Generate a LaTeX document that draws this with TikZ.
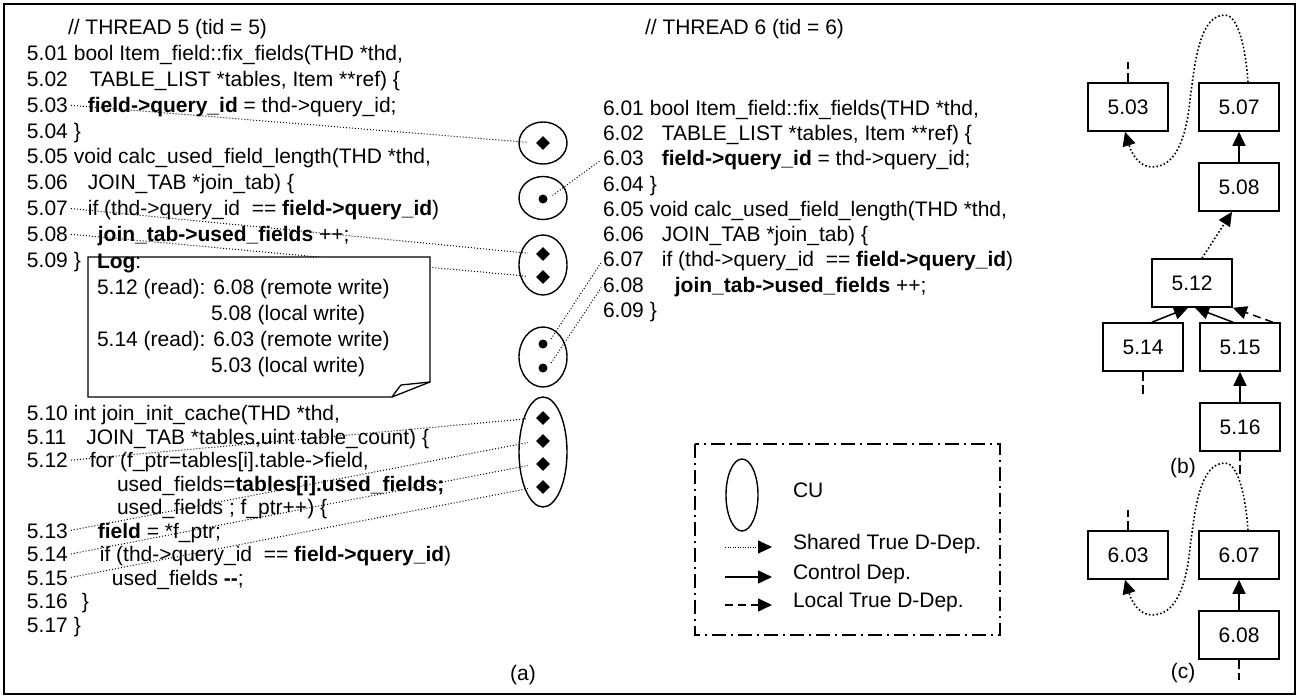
\documentclass[tikz,border=0pt]{standalone}
\usepackage{fontspec}
\setmainfont{Liberation Sans}
\usetikzlibrary{arrows.meta,calc,shapes.geometric}
\newcommand\cdfont{\fontsize{21}{25}\selectfont}
\begin{document}
\begin{tikzpicture}[x=1pt,y=-1pt,
  txt/.style={anchor=mid west,inner sep=0pt,outer sep=0pt,font=\cdfont},
  lbl/.style={inner sep=0pt,font=\cdfont},
  cuell/.style={draw,ellipse,line width=1.4pt,inner sep=0pt},
  bdia/.style={diamond,fill,inner sep=0pt,minimum size=14pt},
  bdot/.style={circle,fill,inner sep=0pt,minimum size=9pt},
  lnk/.style={line width=1pt,dash pattern=on 1pt off 2pt},
  gbx/.style={draw,line width=1.6pt,minimum width=80pt,minimum height=48pt,inner sep=0pt,font=\cdfont},
  ahd/.style={-{Triangle[length=14pt,width=13pt]}},
  ctrl/.style={ahd,line width=1.5pt},
  gdot/.style={ahd,line width=1.6pt,dash pattern=on 1.6pt off 2.2pt},
  gdash/.style={ahd,line width=1.5pt,dash pattern=on 8pt off 5pt},
  lshared/.style={ahd,line width=1pt,dash pattern=on 1pt off 1.5pt},
  stubl/.style={line width=1.5pt,dash pattern=on 9pt off 4pt}]
\useasboundingbox (0,0) rectangle (1299,698);
\draw[line width=1.6pt] (4,4) rectangle (1295,694);

% ---------------- thread 5 -----------------
\node[txt] (h5) at (68,32) {// THREAD 5 (tid = 5)};
\node[txt] (n501) at (27,58) {5.01};
\node[txt] (c501) at ($(n501.mid east)+(6,0)$) {bool Item\_field::fix\_fields(THD *thd,};
\node[txt] (n502) at (27,83.8) {5.02};
\node[txt] (c502) at ($(n502.mid east)+(22,0)$) {TABLE\_LIST *tables, Item **ref) \{};
\node[txt] (n503) at (27,109.6) {5.03};
\node[txt] (c503) at ($(n503.mid east)+(20,0)$) {\textbf{field->query\_id} = thd->query\_id;};
\node[txt] (n504) at (27,135.4) {5.04};
\node[txt] (c504) at ($(n504.mid east)+(6,0)$) {\}};
\node[txt] (n505) at (27,161.2) {5.05};
\node[txt] (c505) at ($(n505.mid east)+(6,0)$) {void calc\_used\_field\_length(THD *thd,};
\node[txt] (n506) at (27,187) {5.06};
\node[txt] (c506) at ($(n506.mid east)+(20,0)$) {JOIN\_TAB *join\_tab) \{};
\node[txt] (n507) at (27,212.8) {5.07};
\node[txt] (c507) at ($(n507.mid east)+(20,0)$) {if (thd->query\_id\ \ == \textbf{field->query\_id})};
\node[txt] (n508) at (27,238.6) {5.08};
\node[txt] (c508) at ($(n508.mid east)+(30,0)$) {\textbf{join\_tab->used\_fields} ++;};
\node[txt] (n509) at (27,264.4) {5.09};
\node[txt] (c509) at ($(n509.mid east)+(6,0)$) {\}};

\node[txt] (n510) at (27,418) {5.10};
\node[txt] (c510) at ($(n510.mid east)+(6,0)$) {int join\_init\_cache(THD *thd,};
\node[txt] (n511) at (27,441.5) {5.11};
\node[txt] (c511) at ($(n511.mid east)+(20,0)$) {JOIN\_TAB *tables,uint table\_count) \{};
\node[txt] (n512) at (27,465) {5.12};
\node[txt] (c512) at ($(n512.mid east)+(22,0)$) {for (f\_ptr=tables[i].table->field,};
\node[txt] (c512b) at (117,488.5) {used\_fields=\textbf{tables[i].used\_fields;}};
\node[txt] (c512c) at (117,512) {used\_fields ; f\_ptr++) \{};
\node[txt] (n513) at (27,535.5) {5.13};
\node[txt] (c513) at ($(n513.mid east)+(30,0)$) {\textbf{field} = *f\_ptr;};
\node[txt] (n514) at (27,559) {5.14};
\node[txt] (c514) at ($(n514.mid east)+(32,0)$) {if (thd->query\_id\ \ == \textbf{field->query\_id})};
\node[txt] (n515) at (27,582.5) {5.15};
\node[txt] (c515) at ($(n515.mid east)+(44,0)$) {used\_fields \textbf{-{}-};};
\node[txt] (n516) at (27,606) {5.16};
\node[txt] (c516) at ($(n516.mid east)+(14,0)$) {\}};
\node[txt] (n517) at (27,629.5) {5.17};
\node[txt] (c517) at ($(n517.mid east)+(6,0)$) {\}};

% ---------------- thread 6 -----------------
\node[txt] (h6) at (645,32) {// THREAD 6 (tid = 6)};
\node[txt] (n601) at (603,112.5) {6.01};
\node[txt] (c601) at ($(n601.mid east)+(6,0)$) {bool Item\_field::fix\_fields(THD *thd,};
\node[txt] (n602) at (603,137.8) {6.02};
\node[txt] (c602) at ($(n602.mid east)+(18,0)$) {TABLE\_LIST *tables, Item **ref) \{};
\node[txt] (n603) at (603,163.1) {6.03};
\node[txt] (c603) at ($(n603.mid east)+(18,0)$) {\textbf{field->query\_id} = thd->query\_id;};
\node[txt] (n604) at (603,188.4) {6.04};
\node[txt] (c604) at ($(n604.mid east)+(6,0)$) {\}};
\node[txt] (n605) at (603,213.7) {6.05};
\node[txt] (c605) at ($(n605.mid east)+(6,0)$) {void calc\_used\_field\_length(THD *thd,};
\node[txt] (n606) at (603,239) {6.06};
\node[txt] (c606) at ($(n606.mid east)+(18,0)$) {JOIN\_TAB *join\_tab) \{};
\node[txt] (n607) at (603,264.3) {6.07};
\node[txt] (c607) at ($(n607.mid east)+(18,0)$) {if (thd->query\_id\ \ == \textbf{field->query\_id})};
\node[txt] (n608) at (603,289.6) {6.08};
\node[txt] (c608) at ($(n608.mid east)+(31,0)$) {\textbf{join\_tab->used\_fields} ++;};
\node[txt] (n609) at (603,314.9) {6.09};
\node[txt] (c609) at ($(n609.mid east)+(6,0)$) {\}};

% ---------------- CUs -----------------
\node[cuell,minimum width=48pt,minimum height=42pt] (e1) at (543,143) {};
\node[bdia] (d1) at (543,143) {};
\node[cuell,minimum width=48pt,minimum height=43pt] (e2) at (543,198) {};
\node[bdot] (p2) at (543,199) {};
\node[cuell,minimum width=48pt,minimum height=60pt] (e3) at (543,265) {};
\node[bdia] (d3a) at (543,254) {};
\node[bdia] (d3b) at (543,277) {};
\node[cuell,minimum width=48pt,minimum height=60pt] (e4) at (543,357) {};
\node[bdot] (p4a) at (543,344) {};
\node[bdot] (p4b) at (543,368) {};
\node[cuell,minimum width=48pt,minimum height=110pt] (e5) at (543,452) {};
\node[bdia] (d5a) at (543,418) {};
\node[bdia] (d5b) at (543,441) {};
\node[bdia] (d5c) at (543,464) {};
\node[bdia] (d5d) at (543,487) {};

% links
\draw[lnk,shorten <=3pt,shorten >=8pt] (n503.east) -- (d1.west);
\draw[lnk,shorten <=3pt,shorten >=8pt] (n507.east) -- (d3a.west);
\draw[lnk,shorten <=3pt,shorten >=8pt] (n508.east) -- (d3b.west);
\draw[lnk,shorten <=3pt,shorten >=8pt] (n512.east) -- (d5a.west);
\draw[lnk,shorten <=3pt,shorten >=8pt] (n513.east) -- (d5b.west);
\draw[lnk,shorten <=3pt,shorten >=8pt] (n514.east) -- (d5c.west);
\draw[lnk,shorten <=3pt,shorten >=8pt] (n515.east) -- (d5d.west);
\draw[lnk,shorten <=6pt,shorten >=3pt] (p2.east) -- (n603.west);
\draw[lnk,shorten <=6pt,shorten >=3pt] (p4a.east) -- (n607.west);
\draw[lnk,shorten <=6pt,shorten >=3pt] (p4b.east) -- (n608.west);

% ---------------- log note -----------------
\draw[line width=1.3pt,fill=white] (88,257) -- (430,257) -- (430,382) -- (392,397) -- (88,397) -- cycle;
\draw[line width=1.3pt] (430,382) .. controls (415,383) .. (401,385) .. controls (397,390) .. (392,397);
\node[txt] (lg0) at (97,266) {\textbf{Log}:};
\node[txt] (lg1) at (97,292) {5.12 (read): 6.08 (remote write)};
\node[txt] (lg2) at (211,318) {5.08 (local write)};
\node[txt] (lg3) at (97,344) {5.14 (read): 6.03 (remote write)};
\node[txt] (lg4) at (211,370) {5.03 (local write)};

\node[lbl] (la) at (523,675) {(a)};

% ---------------- legend -----------------
\draw[line width=1.5pt,dash pattern=on 14pt off 5pt on 2pt off 5pt] (695,444) rectangle (1000,635);
\node[cuell,minimum width=32pt,minimum height=72pt] (lcu) at (742,495) {};
\node[txt] (tcu) at (793,495) {CU};
\coordinate (la1) at (725,547); \coordinate (lb1) at (772,547);
\coordinate (la2) at (725,577); \coordinate (lb2) at (772,577);
\coordinate (la3) at (725,605); \coordinate (lb3) at (772,605);
\draw[lshared] (la1) -- (lb1);
\draw[ctrl] (la2) -- (lb2);
\draw[gdash] (la3) -- (lb3);
\node[txt] (tl1) at (793,547) {Shared True D-Dep.};
\node[txt] (tl2) at (793,577) {Control Dep.};
\node[txt] (tl3) at (793,605) {Local True D-Dep.};

% ---------------- graph (b) -----------------
\node[gbx] (g503) at (1128,107) {5.03};
\node[gbx] (g507) at (1239,107) {5.07};
\node[gbx] (g508) at (1239,187) {5.08};
\node[gbx] (g512) at (1192,283) {5.12};
\node[gbx] (g514) at (1143,347) {5.14};
\node[gbx] (g515) at (1240,347) {5.15};
\node[gbx] (g516) at (1240,427) {5.16};
\draw[ctrl] (g508.north) -- (g507.south);
\draw[ctrl] (g516.north) -- (g515.south);
\draw[ctrl] ($(g514.north)+(9,0)$) -- ($(g512.south)+(-4,0)$);
\draw[ctrl] ($(g515.north)+(-7,0)$) -- ($(g512.south)+(3,0)$);
\draw[gdash] ($(g515.north east)+(-8,0)$) -- (g512.south east);
\draw[gdot] ($(g512.north)+(10,0)$) -- ($(g508.south)+(-7,0)$);
\draw[gdot] ($(g507.north)+(9,0)$) .. controls (1245,40) and (1236,15) .. (1225,15)
  .. controls (1200,15) and (1195,60) .. (1190,100)
  .. controls (1186,140) and (1175,167) .. (1152,167)
  .. controls (1140,167) and (1132,155) .. ($(g503.south)+(-3,0)$);
\draw[stubl] (g503.north) -- ++(0,-20);
\draw[stubl] (g514.south) -- ++(0,22);
\draw[stubl] (g516.south) -- ++(0,26);
\node[lbl] (lbb) at (1183,468) {(b)};

% ---------------- graph (c) -----------------
\node[gbx] (g603) at (1128,555) {6.03};
\node[gbx] (g607) at (1239,555) {6.07};
\node[gbx] (g608) at (1239,635) {6.08};
\draw[ctrl] (g608.north) -- (g607.south);
\draw[gdot] ($(g607.north)+(9,0)$) .. controls (1245,488) and (1236,463) .. (1225,463)
  .. controls (1200,463) and (1195,508) .. (1190,548)
  .. controls (1186,588) and (1175,615) .. (1152,615)
  .. controls (1140,615) and (1132,603) .. ($(g603.south)+(-3,0)$);
\draw[stubl] (g603.north) -- ++(0,-20);
\draw[stubl] (g608.south) -- ++(0,20);
\node[lbl] (lbc) at (1183,673) {(c)};
\end{tikzpicture}
\end{document}
